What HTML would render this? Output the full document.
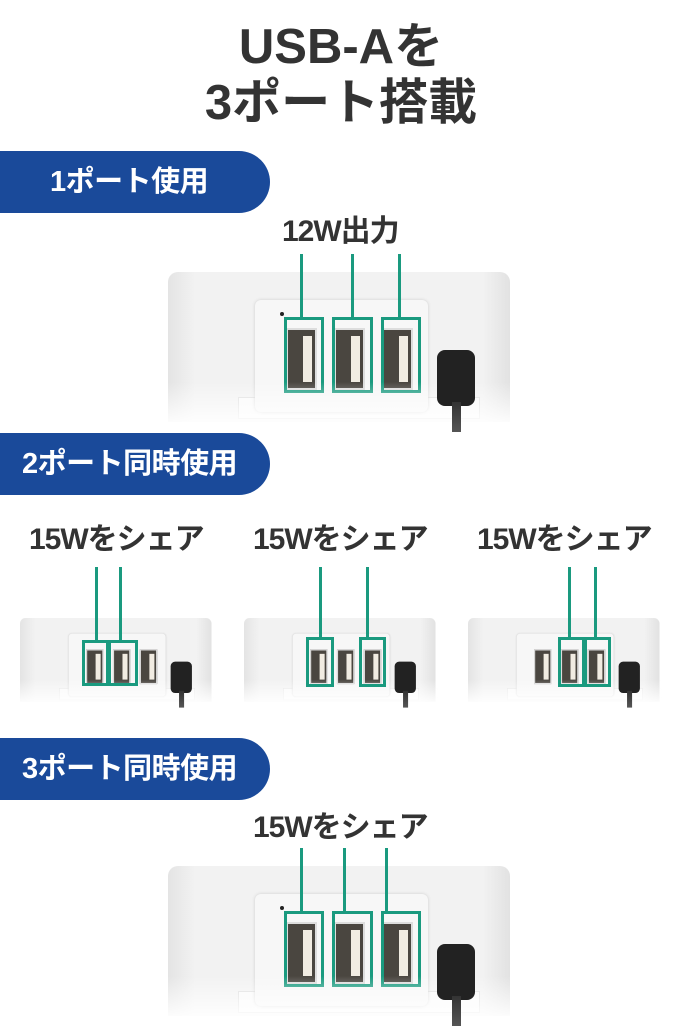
<!DOCTYPE html>
<html><head><meta charset="utf-8"><style>
body{margin:0;width:682px;height:1024px;background:#fff;position:relative;overflow:hidden;font-family:"Liberation Sans","Noto Sans CJK JP",sans-serif;}
.a{position:absolute}
.t{position:absolute;left:0;width:682px;text-align:center;font-weight:bold;color:#333;font-size:49px;line-height:54px}
.pill{position:absolute;left:0;width:270px;height:62px;background:#1a4a9a;border-radius:0 31px 31px 0;color:#fff;font-weight:bold;font-size:29px;line-height:62px;box-sizing:border-box;padding-left:22px;letter-spacing:-0.5px}
.lbl{position:absolute;font-weight:bold;color:#333;font-size:30px;line-height:36px;white-space:nowrap;letter-spacing:-1px}
.dev{position:absolute;width:342px;height:150px;transform-origin:0 0}
.body{position:absolute;left:0;top:0;width:342px;height:150px;border-radius:10px 10px 0 0;background:linear-gradient(90deg,#e4e4e4,#f2f2f2 8%,#f2f2f2 92%,#e2e2e2);}
.panel{position:absolute;left:87px;top:28px;width:173px;height:112px;background:#f7f7f7;border-radius:6px;box-shadow:0 0 3px #ccc}
.low{position:absolute;left:70px;top:125px;width:240px;height:20px;border:1px solid #ddd;background:#fafafa}
.port{position:absolute;top:56px;width:27px;height:58px;background:#4a4640;border:2px solid #ddd}
.port::after{content:"";position:absolute;right:3px;top:6px;width:9px;height:46px;background:#f1ece2}
.plug{position:absolute;left:269px;top:78px;width:38px;height:56px;background:#222;border-radius:8px;z-index:2}
.cord{position:absolute;left:284px;top:130px;width:9px;height:30px;background:linear-gradient(#333,#555);z-index:2}
.fade{position:absolute;left:-5px;top:110px;width:352px;height:45px;background:linear-gradient(rgba(255,255,255,0),#fff);z-index:1}
.g{position:absolute;border:3px solid #1a9a7f;box-sizing:border-box}
.v{position:absolute;width:3px;background:#1a9a7f}
</style></head><body>
<div class="t" style="top:20px">USB-Aを</div>
<div class="t" style="top:76px">3ポート搭載</div>

<div class="pill" style="top:151px;padding-left:50px">1ポート使用</div>
<div class="pill" style="top:433px">2ポート同時使用</div>
<div class="pill" style="top:738px">3ポート同時使用</div>

<div class="dev" style="left:168px;top:272px">
<div class="body"></div><div class="low"></div><div class="panel"></div>
<div class="port" style="left:118px"></div><div class="port" style="left:166px"></div><div class="port" style="left:214px"></div>
<div class="a" style="left:112px;top:40px;width:4px;height:4px;border-radius:50%;background:#222"></div>
<div class="plug"></div><div class="cord"></div><div class="fade"></div></div>

<div class="dev" style="left:168px;top:866px">
<div class="body"></div><div class="low"></div><div class="panel"></div>
<div class="port" style="left:118px"></div><div class="port" style="left:166px"></div><div class="port" style="left:214px"></div>
<div class="a" style="left:112px;top:40px;width:4px;height:4px;border-radius:50%;background:#222"></div>
<div class="plug"></div><div class="cord"></div><div class="fade"></div></div>

<div class="dev" style="left:20px;top:618px;transform:scale(0.56)">
<div class="body"></div><div class="low"></div><div class="panel"></div>
<div class="port" style="left:118px"></div><div class="port" style="left:166px"></div><div class="port" style="left:214px"></div>
<div class="plug"></div><div class="cord"></div><div class="fade"></div></div>
<div class="dev" style="left:244px;top:618px;transform:scale(0.56)">
<div class="body"></div><div class="low"></div><div class="panel"></div>
<div class="port" style="left:118px"></div><div class="port" style="left:166px"></div><div class="port" style="left:214px"></div>
<div class="plug"></div><div class="cord"></div><div class="fade"></div></div>
<div class="dev" style="left:468px;top:618px;transform:scale(0.56)">
<div class="body"></div><div class="low"></div><div class="panel"></div>
<div class="port" style="left:118px"></div><div class="port" style="left:166px"></div><div class="port" style="left:214px"></div>
<div class="plug"></div><div class="cord"></div><div class="fade"></div></div>

<div class="lbl" style="left:282px;top:214px">12W出力</div>
<div class="v" style="left:300px;top:254px;height:64px"></div>
<div class="v" style="left:351px;top:254px;height:64px"></div>
<div class="v" style="left:398px;top:254px;height:64px"></div>
<div class="g" style="left:284px;top:317px;width:40px;height:76px"></div>
<div class="g" style="left:332px;top:317px;width:41px;height:76px"></div>
<div class="g" style="left:381px;top:317px;width:40px;height:76px"></div>

<div class="lbl" style="left:29px;top:522px">15Wをシェア</div>
<div class="lbl" style="left:253px;top:522px">15Wをシェア</div>
<div class="lbl" style="left:477px;top:522px">15Wをシェア</div>
<div class="v" style="left:95px;top:567px;height:74px"></div>
<div class="v" style="left:119px;top:567px;height:74px"></div>
<div class="g" style="left:82px;top:640px;width:27px;height:46px"></div>
<div class="g" style="left:108px;top:640px;width:30px;height:46px"></div>
<div class="v" style="left:319px;top:567px;height:71px"></div>
<div class="v" style="left:366px;top:567px;height:71px"></div>
<div class="g" style="left:306px;top:637px;width:28px;height:50px"></div>
<div class="g" style="left:359px;top:637px;width:27px;height:50px"></div>
<div class="v" style="left:568px;top:567px;height:71px"></div>
<div class="v" style="left:594px;top:567px;height:71px"></div>
<div class="g" style="left:558px;top:637px;width:27px;height:50px"></div>
<div class="g" style="left:584px;top:637px;width:27px;height:50px"></div>

<div class="lbl" style="left:253px;top:810px">15Wをシェア</div>
<div class="v" style="left:300px;top:848px;height:64px"></div>
<div class="v" style="left:343px;top:848px;height:64px"></div>
<div class="v" style="left:385px;top:848px;height:64px"></div>
<div class="g" style="left:284px;top:911px;width:40px;height:76px"></div>
<div class="g" style="left:332px;top:911px;width:41px;height:76px"></div>
<div class="g" style="left:381px;top:911px;width:40px;height:76px"></div>
</body></html>
